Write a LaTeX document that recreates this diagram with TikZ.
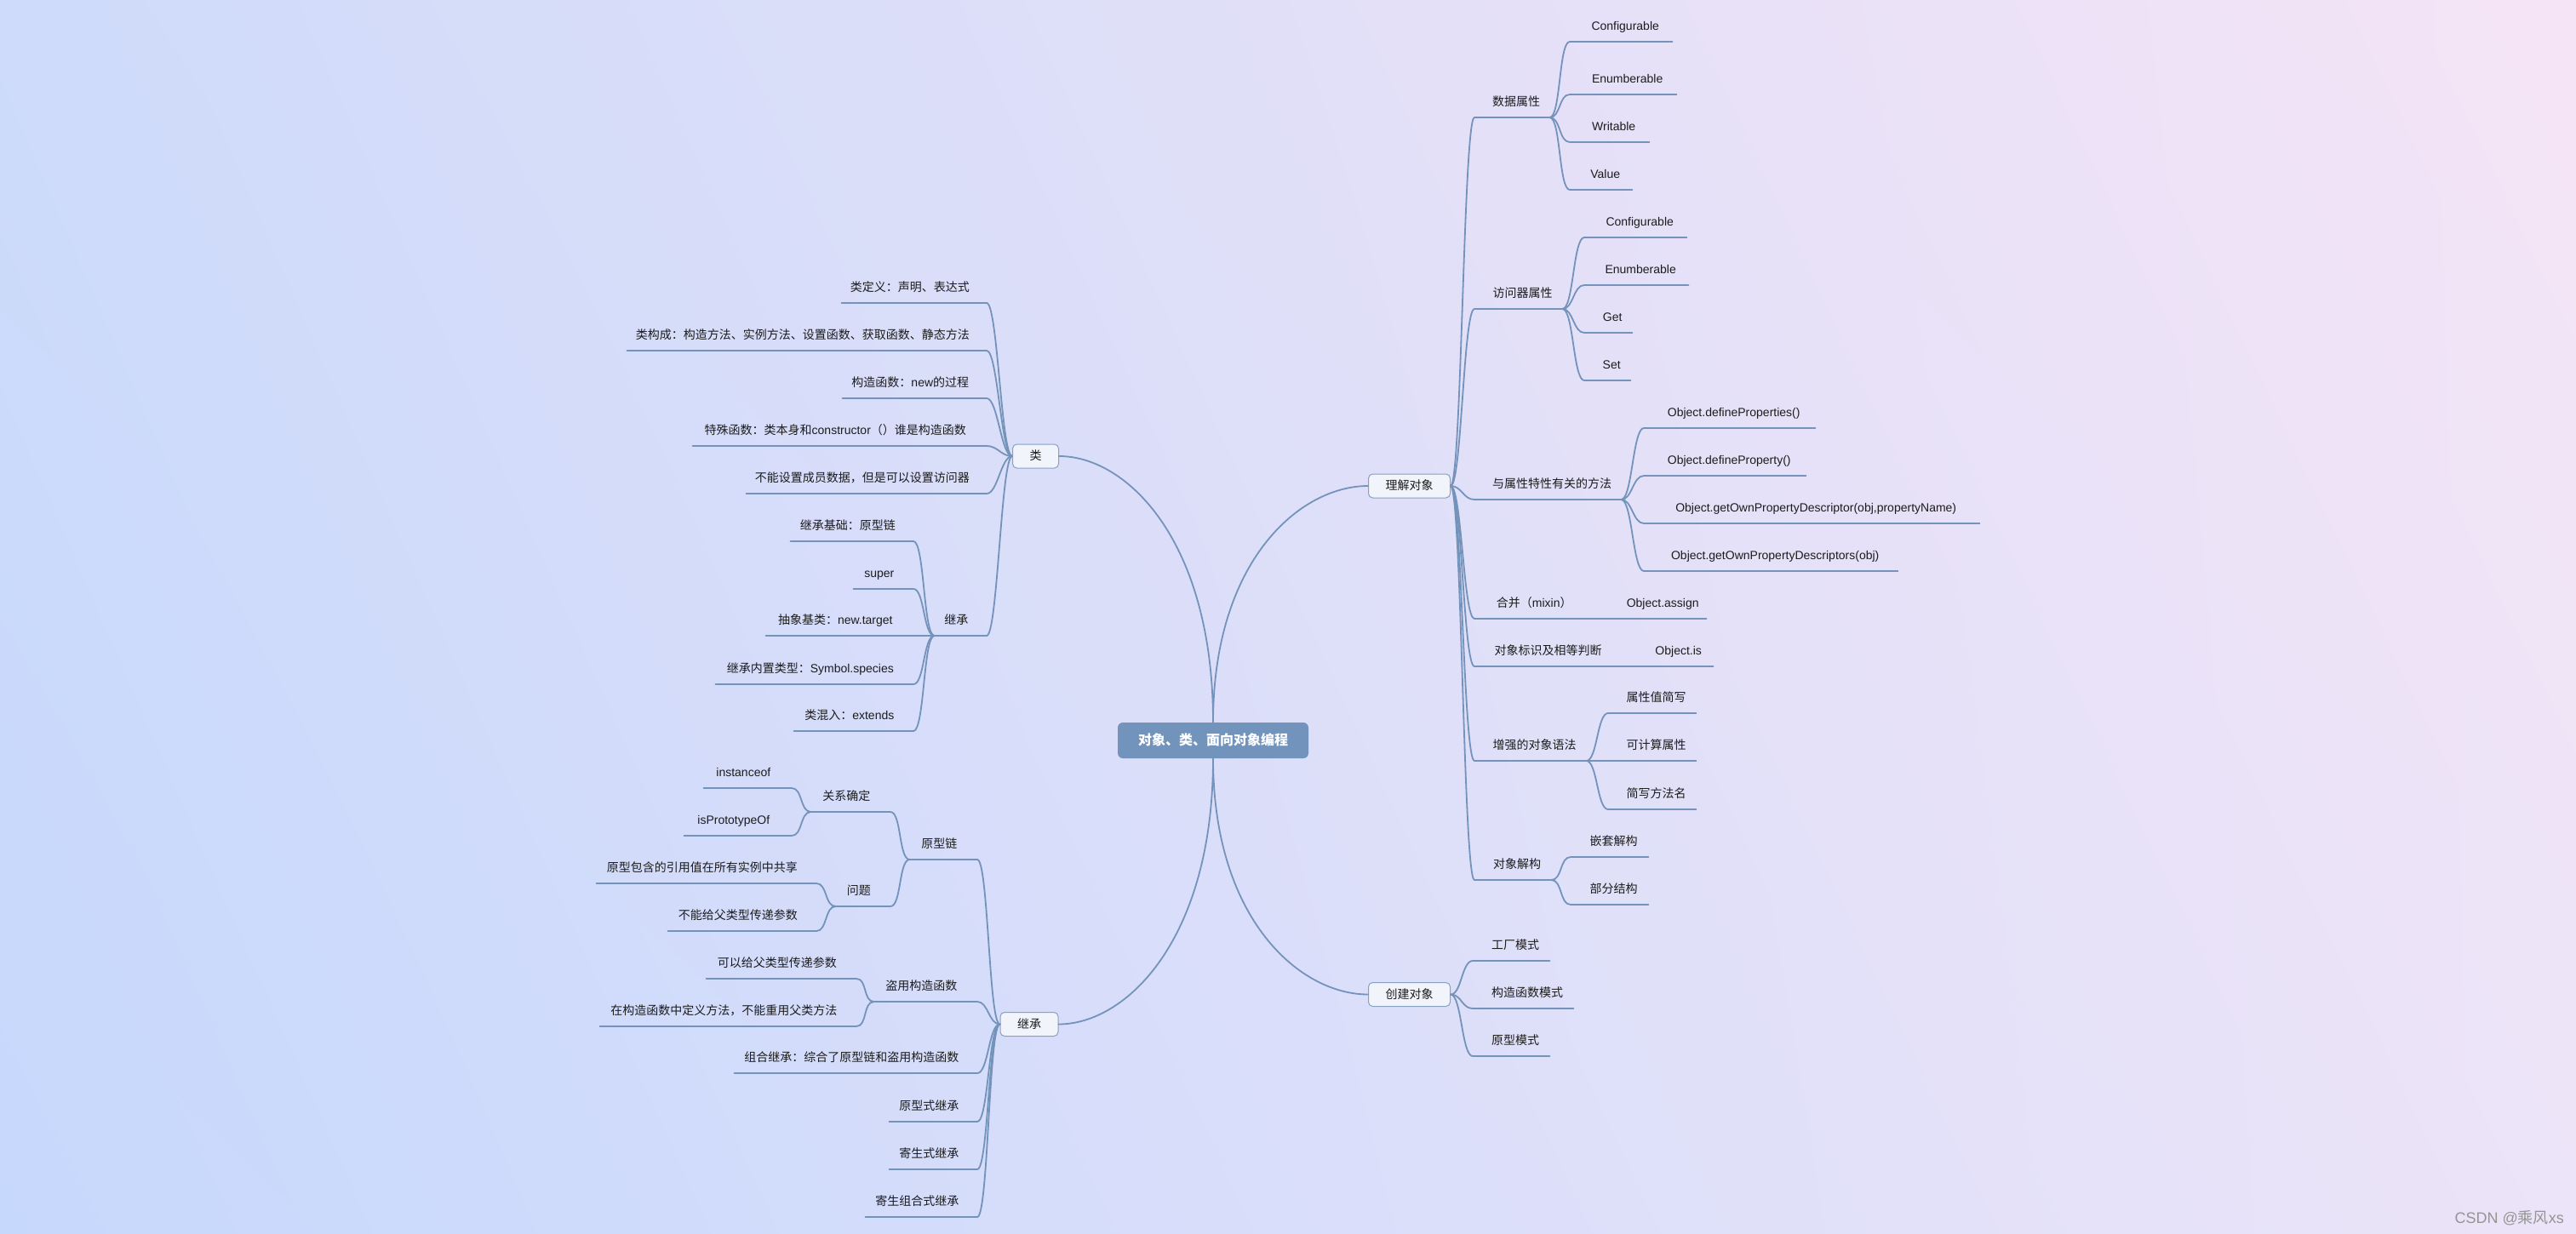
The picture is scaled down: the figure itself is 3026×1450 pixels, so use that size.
\documentclass[tikz,border=0pt]{standalone}
\usepackage{fontspec}
\usetikzlibrary{shadings}
\setmainfont{Liberation Sans}
\newfontfamily\cjk{Noto Sans CJK SC}
\newfontfamily\lat{Liberation Sans}
\definecolor{lnc}{RGB}{116,147,187}
\definecolor{txt}{RGB}{28,28,28}
\definecolor{boxfill}{RGB}{241,244,250}
\definecolor{boxdraw}{RGB}{135,160,196}
\definecolor{ctrfill}{RGB}{114,148,188}
\definecolor{bgtl}{RGB}{206,219,250}
\definecolor{bgtr}{RGB}{245,228,246}
\definecolor{bgbl}{RGB}{198,216,252}
\definecolor{bgbr}{RGB}{236,228,248}
\begin{document}
\begin{tikzpicture}[x=1pt,y=-1pt,
  conn/.style={draw=lnc, line width=1.8pt, line cap=round},
  rcurve/.style={to path={.. controls +(13,0) and +(-13,0) .. (\tikztotarget)}},
  lcurve/.style={to path={.. controls +(-13,0) and +(13,0) .. (\tikztotarget)}},
  leaf/.style={inner xsep=0pt, inner ysep=10pt, text height=10pt, text depth=3pt,
    font=\fontsize{14}{16}\selectfont\cjk, text=txt},
  lt/.style={font=\fontsize{14}{16}\selectfont\lat},
  rn/.style={leaf, anchor=south west, execute at begin node={\hspace*{10pt}}},
  lnode/.style={leaf, anchor=south east, execute at end node={\hspace*{10pt}}},
  topic/.style={draw=boxdraw, line width=1pt, fill=boxfill, rounded corners=5pt,
    minimum height=28pt, inner xsep=20pt, inner ysep=0pt, text height=11pt, text depth=2pt,
    font=\fontsize{14}{16}\selectfont\cjk, text=txt},
  central/.style={fill=ctrfill, rounded corners=6pt, minimum width=224pt, minimum height=42pt,
    inner sep=0pt, text height=13pt, text depth=2pt, text=white,
    font=\fontsize{16}{18}\selectfont\cjk\bfseries}
]
\shade[upper left=bgtl, upper right=bgtr, lower left=bgbl, lower right=bgbr] (0,0) rectangle (3026,1450);
\useasboundingbox (0,0) rectangle (3026,1450);

% central and main topics
\node[central] (c) at (1425,870) {对象、类、面向对象编程};
\node[topic] (A) at (1655.5,571) {理解对象};
\node[topic] (B) at (1655.5,1168.5) {创建对象};
\node[topic] (C) at (1216.5,536) {类};
\node[topic] (D) at (1209,1203.5) {继承};

% ---- 理解对象
\node[rn, minimum width=88pt] (a1) at (1732,138) {数据属性};
\node[rn, minimum width=103pt] (a2) at (1732,363) {访问器属性};
\node[rn, minimum width=172pt] (a3) at (1732,587) {与属性特性有关的方法};
\node[rn, minimum width=130pt] (a4) at (1732,727) {合并（{\lat mixin}）};
\node[rn, minimum width=163pt] (a5) at (1732,783) {对象标识及相等判断};
\node[rn, minimum width=131pt] (a6) at (1732,894) {增强的对象语法};
\node[rn, minimum width=90pt] (a7) at (1732,1034) {对象解构};

\node[rn, lt, minimum width=120pt] (a11) at (1844,49) {Configurable};
\node[rn, lt, minimum width=125pt] (a12) at (1844,111) {Enumberable};
\node[rn, lt, minimum width=93pt] (a13) at (1844,167) {Writable};
\node[rn, lt, minimum width=73pt] (a14) at (1844,223) {Value};

\node[rn, lt, minimum width=120pt] (a21) at (1861,279) {Configurable};
\node[rn, lt, minimum width=122pt] (a22) at (1861,335) {Enumberable};
\node[rn, lt, minimum width=56pt] (a23) at (1861,391) {Get};
\node[rn, lt, minimum width=54pt] (a24) at (1861,447) {Set};

\node[rn, lt, minimum width=201pt] (a31) at (1931,503) {Object.defineProperties()};
\node[rn, lt, minimum width=190pt] (a32) at (1931,559) {Object.defineProperty()};
\node[rn, lt, minimum width=394pt] (a33) at (1931,615) {Object.getOwnPropertyDescriptor(obj,propertyName)};
\node[rn, lt, minimum width=298pt] (a34) at (1931,671) {Object.getOwnPropertyDescriptors(obj)};

\node[rn, lt, minimum width=112pt] (a41) at (1892,727) {Object.assign};
\node[rn, lt, minimum width=91pt] (a51) at (1921,783) {Object.is};

\node[rn, minimum width=103pt] (a61) at (1889,838) {属性值简写};
\node[rn, minimum width=103pt] (a62) at (1889,894) {可计算属性};
\node[rn, minimum width=103pt] (a63) at (1889,951) {简写方法名};

\node[rn, minimum width=91pt] (a71) at (1845,1007) {嵌套解构};
\node[rn, minimum width=91pt] (a72) at (1845,1063) {部分结构};

% ---- 创建对象
\node[rn, minimum width=90pt] (b1) at (1730,1129) {工厂模式};
\node[rn, minimum width=118pt] (b2) at (1730,1185) {构造函数模式};
\node[rn, minimum width=90pt] (b3) at (1730,1241) {原型模式};

% ---- 类
\node[lnode, minimum width=170pt] (c1) at (1159,356) {类定义：声明、表达式};
\node[lnode, minimum width=422pt] (c2) at (1159,412) {类构成：构造方法、实例方法、设置函数、获取函数、静态方法};
\node[lnode, minimum width=169pt] (c3) at (1159,468) {构造函数：{\lat new}的过程};
\node[lnode, minimum width=345pt] (c4) at (1159,524) {特殊函数：类本身和{\lat constructor}（）谁是构造函数};
\node[lnode, minimum width=282pt] (c5) at (1159,580) {不能设置成员数据，但是可以设置访问器};
\node[lnode, minimum width=61pt] (c6) at (1159,747) {继承};

\node[lnode, minimum width=144pt] (c61) at (1073,636) {继承基础：原型链};
\node[lnode, lt, minimum width=70pt] (c62) at (1073,692) {super};
\node[lnode, minimum width=173pt] (c63) at (1073,747) {抽象基类：{\lat new.target}};
\node[lnode, minimum width=232pt] (c64) at (1073,804) {继承内置类型：{\lat Symbol.species}};
\node[lnode, minimum width=140pt] (c65) at (1073,859) {类混入：{\lat extends}};

% ---- 继承
\node[lnode, minimum width=79pt] (d1) at (1148,1010) {原型链};
\node[lnode, minimum width=121pt] (d2) at (1148,1177) {盗用构造函数};
\node[lnode, minimum width=285pt] (d3) at (1148,1261) {组合继承：综合了原型链和盗用构造函数};
\node[lnode, minimum width=103pt] (d4) at (1148,1318) {原型式继承};
\node[lnode, minimum width=103pt] (d5) at (1148,1374) {寄生式继承};
\node[lnode, minimum width=131pt] (d6) at (1148,1430) {寄生组合式继承};

\node[lnode, minimum width=93pt] (d11) at (1046,954) {关系确定};
\node[lnode, minimum width=64pt] (d12) at (1046,1065) {问题};
\node[lnode, lt, minimum width=103pt] (d111) at (930,926) {instanceof};
\node[lnode, lt, minimum width=126pt] (d112) at (930,982) {isPrototypeOf};
\node[lnode, minimum width=258pt] (d121) at (959,1038) {原型包含的引用值在所有实例中共享};
\node[lnode, minimum width=174pt] (d122) at (959,1094) {不能给父类型传递参数};

\node[lnode, minimum width=176pt] (d21) at (1006,1150) {可以给父类型传递参数};
\node[lnode, minimum width=301pt] (d22) at (1006,1206) {在构造函数中定义方法，不能重用父类方法};

% watermark
\node[anchor=base east, inner sep=0pt, text=black!42, font=\fontsize{18}{20}\selectfont\lat] (wm) at (3012,1437) {CSDN @{\cjk 乘风}xs};

% ---- connectors from the centre
\draw[conn] (c.north) .. controls +(0,-190) and +(-80,0) .. (A.west);
\draw[conn] (c.south) .. controls +(0,189) and +(-80,0) .. (B.west);
\draw[conn] (c.north) .. controls +(0,-213) and +(80,0) .. (C.east);
\draw[conn] (c.south) .. controls +(0,212) and +(80,0) .. (D.east);

% ---- right side connectors
\foreach \n in {a1,a2,a3,a4,a5,a6,a7}
  \draw[conn] (A.east) to[rcurve] (\n.south west) -- (\n.south east);
\foreach \n in {a11,a12,a13,a14}
  \draw[conn] (a1.south east) to[rcurve] (\n.south west) -- (\n.south east);
\foreach \n in {a21,a22,a23,a24}
  \draw[conn] (a2.south east) to[rcurve] (\n.south west) -- (\n.south east);
\foreach \n in {a31,a32,a33,a34}
  \draw[conn] (a3.south east) to[rcurve] (\n.south west) -- (\n.south east);
\draw[conn] (a4.south east) -- (a41.south west) -- (a41.south east);
\draw[conn] (a5.south east) -- (a51.south west) -- (a51.south east);
\foreach \n in {a61,a62,a63}
  \draw[conn] (a6.south east) to[rcurve] (\n.south west) -- (\n.south east);
\foreach \n in {a71,a72}
  \draw[conn] (a7.south east) to[rcurve] (\n.south west) -- (\n.south east);
\foreach \n in {b1,b2,b3}
  \draw[conn] (B.east) to[rcurve] (\n.south west) -- (\n.south east);

% ---- left side connectors
\foreach \n in {c1,c2,c3,c4,c5,c6}
  \draw[conn] (C.west) to[lcurve] (\n.south east) -- (\n.south west);
\foreach \n in {c61,c62,c63,c64,c65}
  \draw[conn] (c6.south west) to[lcurve] (\n.south east) -- (\n.south west);
\foreach \n in {d1,d2,d3,d4,d5,d6}
  \draw[conn] (D.west) to[lcurve] (\n.south east) -- (\n.south west);
\foreach \n in {d11,d12}
  \draw[conn] (d1.south west) to[lcurve] (\n.south east) -- (\n.south west);
\foreach \n in {d111,d112}
  \draw[conn] (d11.south west) to[lcurve] (\n.south east) -- (\n.south west);
\foreach \n in {d121,d122}
  \draw[conn] (d12.south west) to[lcurve] (\n.south east) -- (\n.south west);
\foreach \n in {d21,d22}
  \draw[conn] (d2.south west) to[lcurve] (\n.south east) -- (\n.south west);
\end{tikzpicture}
\end{document}
